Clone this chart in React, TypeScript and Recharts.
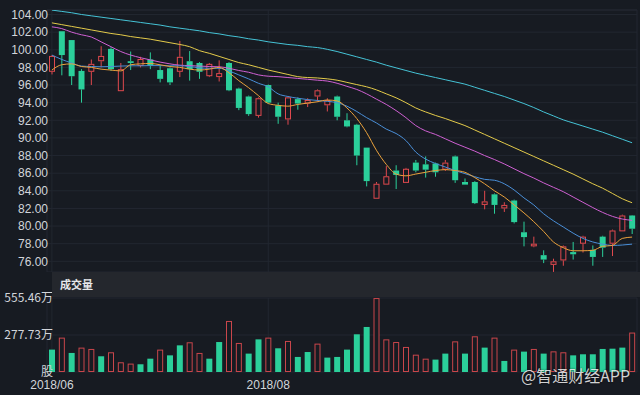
import React from 'react';
import { ComposedChart, Bar, Line, XAxis, YAxis, CartesianGrid, ReferenceLine } from 'recharts';

// ---- data ----
const opens = [97.5, 102.1, 101.1, 97.6, 97.5, 98.7, 100.1, 95.3, 98.7, 98.15, 98.9, 97.7, 97.9, 97.5, 98.7, 98.5, 97.0, 96.9, 98.5, 95.6, 94.7, 92.5, 96.0, 93.7, 92.1, 94.4, 93.9, 94.7, 93.7, 94.7, 92.0, 91.5, 88.9, 83.1, 84.7, 86.3, 84.9, 87.2, 87.0, 87.1, 86.4, 87.9, 85.0, 85.0, 82.4, 83.6, 82.0, 82.9, 79.3, 77.7, 76.7, 75.6, 76.1, 77.05, 78.0, 77.3, 78.8, 78.0, 79.4, 81.2];
const highs = [99.4, 102.1, 101.1, 97.8, 98.9, 100.4, 100.3, 98.5, 99.8, 99.2, 99.7, 98.2, 98.0, 101.0, 99.85, 98.6, 98.5, 98.8, 98.6, 95.7, 94.8, 94.6, 96.05, 94.0, 94.7, 94.6, 94.5, 95.5, 94.5, 94.8, 92.8, 91.6, 88.9, 85.0, 86.8, 86.9, 86.6, 87.5, 87.9, 87.2, 87.5, 88.0, 85.4, 85.1, 84.0, 83.7, 82.7, 83.0, 80.5, 78.8, 77.25, 76.3, 77.8, 78.2, 78.9, 77.8, 78.9, 79.6, 81.3, 81.25];
const lows = [97.2, 97.1, 96.0, 94.0, 96.0, 98.0, 97.6, 95.3, 97.7, 98.0, 97.8, 96.3, 96.0, 96.9, 96.5, 96.7, 96.9, 96.4, 95.3, 93.15, 92.5, 92.3, 93.9, 91.6, 91.5, 93.2, 93.5, 94.1, 93.0, 92.0, 91.2, 86.9, 84.5, 83.1, 84.7, 84.2, 84.9, 86.1, 85.5, 85.6, 86.25, 84.9, 84.7, 82.5, 81.9, 81.4, 81.6, 80.3, 77.7, 77.6, 75.8, 74.8, 75.5, 76.2, 77.0, 75.5, 76.5, 76.6, 79.4, 79.1];
const closes = [99.3, 99.4, 97.0, 95.5, 98.4, 99.3, 97.8, 97.8, 98.5, 98.95, 98.2, 96.7, 96.3, 99.2, 97.8, 97.5, 98.4, 97.35, 95.4, 93.4, 92.7, 94.5, 94.0, 92.4, 94.6, 93.9, 94.3, 95.4, 94.3, 92.4, 91.3, 88.0, 85.1, 84.8, 85.65, 85.8, 86.5, 86.3, 86.4, 86.1, 87.2, 85.2, 84.7, 82.6, 82.8, 82.4, 82.4, 80.45, 78.75, 78.0, 76.2, 76.0, 77.7, 76.8, 78.8, 76.5, 77.55, 79.5, 81.2, 79.7];

const ma5 = [97.7, 98.3, 98.4, 98.1, 98.0, 97.8, 97.7, 97.6, 98.3, 98.4, 98.45, 98.3, 98.1, 98.0, 97.8, 97.7, 97.8, 98.0, 97.4, 96.5, 95.7, 94.8, 93.9, 93.7, 93.6, 93.8, 93.95, 94.1, 94.3, 94.2, 93.4, 92.2, 90.6, 88.6, 87.0, 85.9, 85.7, 85.9, 86.1, 86.3, 86.4, 86.3, 86.1, 85.5, 84.8, 84.0, 83.3, 82.4, 81.5, 80.5, 79.4, 78.2, 77.55, 77.2, 77.2, 77.25, 77.7, 77.8, 78.6, 78.75];
const ma10 = [99.4, 98.9, 98.5, 98.15, 98.1, 98.07, 98.1, 98.15, 98.18, 98.18, 98.2, 98.2, 98.18, 98.18, 98.1, 97.95, 97.9, 97.9, 97.6, 97.15, 96.7, 96.2, 95.8, 95.0, 94.7, 94.5, 94.35, 94.25, 94.15, 94.0, 93.6, 93.0, 92.3, 91.7, 91.0, 90.5, 89.7, 88.4, 87.6, 87.1, 86.7, 86.3, 85.95, 85.6, 85.3, 85.2, 84.8, 84.1, 83.2, 82.4, 81.4, 80.6, 79.9, 79.2, 78.6, 78.2, 77.95, 77.8, 77.85, 77.95];
const ma20 = [102.6, 102.4, 102.0, 101.7, 101.45, 100.9, 100.35, 99.8, 99.4, 99.1, 98.85, 98.6, 98.4, 98.25, 98.2, 98.15, 98.1, 98.07, 97.9, 97.65, 97.45, 97.15, 97.0, 96.95, 96.85, 96.75, 96.65, 96.55, 96.45, 96.2, 95.85, 95.5, 95.0, 94.4, 93.8, 93.1, 92.3, 91.4, 90.8, 90.4, 89.9, 89.4, 88.95, 88.5, 88.0, 87.55, 87.05, 86.5, 85.95, 85.45, 84.9, 84.4, 83.9, 83.3, 82.7, 82.1, 81.55, 81.1, 80.8, 80.65];
const ma30 = [103.05, 102.85, 102.65, 102.45, 102.25, 102.05, 101.85, 101.7, 101.5, 101.35, 101.2, 101.0, 100.8, 100.6, 100.35, 99.9, 99.6, 99.25, 98.9, 98.55, 98.3, 98.0, 97.7, 97.45, 97.2, 96.95, 96.85, 96.8, 96.7, 96.55, 96.3, 96.05, 95.8, 95.45, 95.0, 94.55, 94.0, 93.4, 92.95, 92.55, 92.2, 91.8, 91.4, 90.9, 90.4, 89.9, 89.4, 88.9, 88.4, 87.9, 87.4, 86.9, 86.4, 85.9, 85.35, 84.8, 84.3, 83.7, 83.1, 82.65];
const ma60 = [104.5, 104.35, 104.2, 104.0, 103.85, 103.7, 103.55, 103.4, 103.25, 103.1, 102.95, 102.8, 102.6, 102.45, 102.3, 102.15, 101.95, 101.8, 101.6, 101.45, 101.25, 101.1, 100.9, 100.75, 100.6, 100.5, 100.35, 100.25, 100.05, 99.8, 99.5, 99.2, 98.9, 98.6, 98.25, 97.95, 97.65, 97.35, 97.1, 96.85, 96.6, 96.35, 96.1, 95.75, 95.4, 95.05, 94.7, 94.3, 93.9, 93.45, 92.95, 92.5, 92.05, 91.7, 91.35, 91.0, 90.65, 90.25, 89.85, 89.45];

// volume in 万股
const volumes = [168, 258, 143, 183, 173, 118, 148, 73, 63, 58, 100, 168, 125, 200, 223, 143, 100, 225, 383, 218, 138, 245, 258, 178, 233, 113, 150, 213, 108, 113, 168, 283, 338, 555, 245, 225, 188, 130, 100, 93, 138, 230, 138, 268, 183, 258, 83, 168, 153, 173, 138, 155, 148, 125, 133, 133, 173, 175, 183, 296];
// 1 = red (hollow) bar, 0 = green bar
const volUp = [0, 1, 0, 1, 1, 0, 1, 1, 1, 0, 0, 1, 0, 0, 1, 1, 0, 0, 1, 1, 0, 0, 1, 0, 1, 0, 0, 1, 0, 0, 0, 0, 0, 1, 1, 1, 1, 1, 1, 0, 0, 1, 0, 1, 0, 1, 0, 1, 0, 1, 0, 1, 1, 0, 0, 0, 0, 0, 0, 1];

const dateTickIdx = [0, 22];
const dateTickLabels = ['2018/06', '2018/08'];
const priceTicks = [76, 78, 80, 82, 84, 86, 88, 90, 92, 94, 96, 98, 100, 102, 104];
const priceDomain = [74.79, 104.51];
const volTicks = [0, 277.73, 555.46];
const volTickLabels = ['股', '277.73万', '555.46万'];
const volMax = 555.46;

const rows = opens.map((o, i) => ({
  i,
  open: o,
  high: highs[i],
  low: lows[i],
  close: closes[i],
  ma5: ma5[i],
  ma10: ma10[i],
  ma20: ma20[i],
  ma30: ma30[i],
  ma60: ma60[i],
  vol: volumes[i],
  volUp: volUp[i],
}));

// ---- styles ----
const BG = '#171b22';
const GRID = '#222730';
const RED = '#e0494e';
const GREEN = '#2bcf9a';
const AXIS_TEXT = '#d2d5da';
const LATIN = '"Liberation Sans", Arial, sans-serif';
const CJK = '"Noto Sans CJK SC", "Liberation Sans", sans-serif';

const Candle = (props: any) => {
  const { x, y, width, height, payload } = props;
  if (!payload) return null;
  const { open, close, high, low } = payload;
  const span = high - low || 1;
  const py = (v: number) => y + ((high - v) / span) * height;
  const up = close >= open;
  const cx = x + width / 2;
  const top = py(Math.max(open, close));
  const bot = py(Math.min(open, close));
  const bh = Math.max(bot - top, 1);
  const color = up ? RED : GREEN;
  return (
    <g>
      <line x1={cx} x2={cx} y1={y} y2={top} stroke={color} strokeWidth={1} />
      <line x1={cx} x2={cx} y1={top + bh} y2={y + height} stroke={color} strokeWidth={1} />
      {up ? (
        <rect x={x + 0.5} y={top + 0.5} width={width - 1} height={Math.max(bh - 1, 0.5)} fill={BG} stroke={color} strokeWidth={1} />
      ) : (
        <rect x={x} y={top} width={width} height={bh} fill={color} />
      )}
    </g>
  );
};

const VolBar = (props: any) => {
  const { x, y, width, height, payload } = props;
  if (!payload || !height) return null;
  if (payload.volUp) {
    return <rect x={x + 0.5} y={y + 0.5} width={width - 1} height={Math.max(height - 1, 0.5)} fill={BG} stroke="#c9464b" strokeWidth={1} />;
  }
  return <rect x={x} y={y} width={width} height={height} fill={GREEN} />;
};

export default function App() {
  return (
    <div
      style={{
        position: 'absolute',
        left: 0,
        top: 0,
        width: 640,
        height: 395,
        background: BG,
        overflow: 'hidden',
        fontFamily: LATIN,
      }}
    >
      <div style={{ position: 'absolute', left: 0, top: 0 }}>
        <ComposedChart width={640} height={272} data={rows} margin={{ top: 10, right: 3, bottom: 0, left: 0 }}>
          <CartesianGrid stroke={GRID} strokeWidth={1} />
          <XAxis dataKey="i" type="category" ticks={dateTickIdx} hide height={0} />
          <YAxis
            domain={priceDomain}
            ticks={priceTicks}
            interval={0}
            allowDataOverflow
            width={47}
            tickSize={0}
            tickMargin={-1}
            axisLine={false}
            tickLine={false}
            tick={{ fill: AXIS_TEXT, fontSize: 12, fontFamily: LATIN }}
            tickFormatter={(v: number) => v.toFixed(2)}
          />
          <ReferenceLine y={priceDomain[1]} stroke={GRID} />
          <Bar dataKey={(d: any) => [d.low, d.high]} barSize={6} shape={Candle} isAnimationActive={false} />
          <Line dataKey="ma60" type="monotone" stroke="#45c3d6" strokeWidth={1} dot={false} activeDot={false} isAnimationActive={false} />
          <Line dataKey="ma30" type="monotone" stroke="#e4cb4a" strokeWidth={1} dot={false} activeDot={false} isAnimationActive={false} />
          <Line dataKey="ma20" type="monotone" stroke="#cf60d2" strokeWidth={1} dot={false} activeDot={false} isAnimationActive={false} />
          <Line dataKey="ma10" type="monotone" stroke="#4a8fd8" strokeWidth={1} dot={false} activeDot={false} isAnimationActive={false} />
          <Line dataKey="ma5" type="monotone" stroke="#eba23c" strokeWidth={1} dot={false} activeDot={false} isAnimationActive={false} />
        </ComposedChart>
      </div>

      <div style={{ position: 'absolute', left: 0, top: 278 }}>
        <ComposedChart width={640} height={117} data={rows} margin={{ top: 20, right: 3, bottom: 0, left: 0 }}>
          <CartesianGrid stroke={GRID} strokeWidth={1} />
          <XAxis
            dataKey="i"
            type="category"
            ticks={dateTickIdx}
            interval={0}
            height={23}
            axisLine={false}
            tickLine={false}
            tickSize={0}
            tickMargin={8}
            tick={{ fill: AXIS_TEXT, fontSize: 12, fontFamily: LATIN }}
            tickFormatter={(v: number) => dateTickLabels[dateTickIdx.indexOf(v)] ?? ''}
          />
          <YAxis
            domain={[0, volMax]}
            ticks={volTicks}
            interval={0}
            allowDataOverflow
            width={47}
            tickSize={0}
            tickMargin={-6}
            axisLine={false}
            tickLine={false}
            tick={{ fill: AXIS_TEXT, fontSize: 12, fontFamily: CJK }}
            tickFormatter={(v: number) => volTickLabels[volTicks.indexOf(v)] ?? ''}
          />
          <Bar dataKey="vol" barSize={6} shape={VolBar} isAnimationActive={false} />
        </ComposedChart>
      </div>

      <div
        style={{
          position: 'absolute',
          left: 52,
          top: 272,
          width: 588,
          height: 25,
          background: '#24272d',
        }}
      />
      <div
        style={{
          position: 'absolute',
          left: 60,
          top: 277,
          fontSize: 11,
          lineHeight: '14px',
          fontWeight: 600,
          color: '#e6e7ea',
          fontFamily: CJK,
        }}
      >
        成交量
      </div>
      <div
        style={{
          position: 'absolute',
          left: 521,
          top: 366,
          fontSize: 16,
          lineHeight: '18px',
          color: 'rgba(255,255,255,0.82)',
          fontFamily: CJK,
          textShadow: '0 0 2px rgba(0,0,0,0.7)',
          whiteSpace: 'nowrap',
        }}
      >
        @智通财经APP
      </div>
    </div>
  );
}
